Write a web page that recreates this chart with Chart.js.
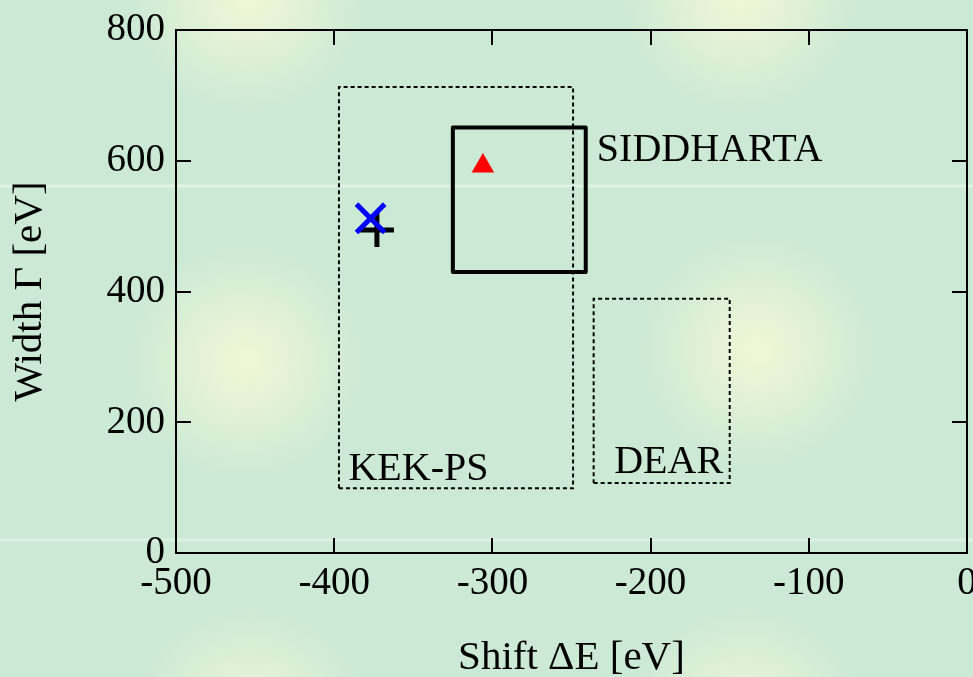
<!DOCTYPE html>
<html><head><meta charset="utf-8">
<script src="https://cdn.jsdelivr.net/npm/chart.js@4"></script>
<style>
html,body{margin:0;padding:0;width:973px;height:677px;overflow:hidden;}
body{
background:
 linear-gradient(to bottom, rgba(255,255,255,0) 184px, rgba(240,250,240,0.55) 185px, rgba(240,250,240,0.55) 187px, rgba(255,255,255,0) 188px, rgba(255,255,255,0) 538px, rgba(240,250,240,0.45) 539px, rgba(240,250,240,0.45) 541px, rgba(255,255,255,0) 542px),
 radial-gradient(circle at 245px 362px, rgba(240,247,214,1) 0px, rgba(236,245,214,0.8) 40px, rgba(204,233,213,0) 120px),
 radial-gradient(circle at 757px 350px, rgba(240,247,214,1) 0px, rgba(236,245,214,0.8) 40px, rgba(204,233,213,0) 120px),
 radial-gradient(circle at 248px -5px, rgba(240,247,214,1) 0px, rgba(236,245,214,0.8) 40px, rgba(204,233,213,0) 120px),
 radial-gradient(circle at 740px -5px, rgba(240,247,214,1) 0px, rgba(236,245,214,0.8) 40px, rgba(204,233,213,0) 120px),
 radial-gradient(circle at 250px 725px, rgba(240,247,214,1) 0px, rgba(236,245,214,0.8) 40px, rgba(204,233,213,0) 120px),
 radial-gradient(circle at 745px 725px, rgba(240,247,214,1) 0px, rgba(236,245,214,0.8) 40px, rgba(204,233,213,0) 120px),
 #cbe9d5;
}
#wrap{position:relative;width:973px;height:677px;}
</style></head>
<body><div id="wrap"><canvas id="c" width="973" height="677"></canvas></div>
<script>
// ---- data ----
const xRange = [-500, 0];
const yRange = [0, 800];
const xTickStep = 100;
const yTickStep = 200;
const xTitle = 'Shift ΔE [eV]';
const yTitle = 'Width Γ [eV]';

// experiment boxes: [xmin, xmax], [ymin, ymax]
const kekpsX = [-397, -249];
const kekpsY = [99, 713];
const dearX = [-236, -150];
const dearY = [107, 389];
const siddhartaX = [-325, -241];
const siddhartaY = [430, 651];

// theory points
const triangleX = [-306];
const triangleY = [592];
const blueCrossX = [-377];
const blueCrossY = [512];
const blackPlusX = [-373];
const blackPlusY = [494];

// box labels (text, data position of left baseline)
const labelTexts = ['SIDDHARTA', 'KEK-PS', 'DEAR'];
const labelX = [-234, -391, -223];
const labelY = [599, 112, 122];

// ---- build ----
function rect(xs, ys){
  return [
    {x: xs[0], y: ys[0]}, {x: xs[1], y: ys[0]},
    {x: xs[1], y: ys[1]}, {x: xs[0], y: ys[1]},
    {x: xs[0], y: ys[0]}
  ];
}
function pts(xs, ys){ return xs.map((v,i)=>({x: v, y: ys[i]})); }

Chart.defaults.font.family = "'Liberation Serif','Times New Roman',serif";
Chart.defaults.color = '#000';

const labelPlugin = {
  id: 'boxLabels',
  afterDatasetsDraw(chart){
    const ctx = chart.ctx;
    const xs = chart.scales.x, ys = chart.scales.y;
    ctx.save();
    ctx.font = "40px 'Liberation Serif','Times New Roman',serif";
    ctx.fillStyle = '#000';
    ctx.textAlign = 'left';
    ctx.textBaseline = 'alphabetic';
    labelTexts.forEach((t,i)=>{
      ctx.fillText(t, xs.getPixelForValue(labelX[i]), ys.getPixelForValue(labelY[i]));
    });
    ctx.restore();
  }
};

const gridOpts = {drawOnChartArea:false, drawTicks:true, tickLength:-15, color:'#000', lineWidth:2};
const borderOpts = {display:true, color:'#000', width:2};

new Chart(document.getElementById('c'), {
  type: 'scatter',
  data: {
    datasets: [
      {label:'blue', data: pts(blueCrossX, blueCrossY), pointStyle:'crossRot', pointRadius:20, borderColor:'#0000ff', backgroundColor:'#0000ff', pointBorderWidth:5, showLine:false},
      {label:'plus', data: pts(blackPlusX, blackPlusY), pointStyle:'cross', pointRadius:17, borderColor:'#000', backgroundColor:'#000', pointBorderWidth:5, showLine:false},
      {label:'tri', data: pts(triangleX, triangleY), pointStyle:'triangle', pointRadius:13, borderColor:'#ff0000', backgroundColor:'#ff0000', pointBorderWidth:0, showLine:false},
      {label:'SIDDHARTA', data: rect(siddhartaX, siddhartaY), showLine:true, pointRadius:0, borderColor:'#000', borderWidth:4, borderJoinStyle:'round', fill:false, tension:0},
      {label:'KEK-PS', data: rect(kekpsX, kekpsY), showLine:true, pointRadius:0, borderColor:'#000', borderWidth:2, borderDash:[4,3], fill:false, tension:0},
      {label:'DEAR', data: rect(dearX, dearY), showLine:true, pointRadius:0, borderColor:'#000', borderWidth:2, borderDash:[4,3], fill:false, tension:0}
    ]
  },
  options: {
    responsive:false, animation:false,
    layout:{autoPadding:false, padding:{left:0, right:6, top:30, bottom:0}},
    plugins:{legend:{display:false}, tooltip:{enabled:false}},
    scales:{
      x:{type:'linear', position:'bottom', min:xRange[0], max:xRange[1],
        ticks:{stepSize:xTickStep, font:{size:39}, color:'#000', padding:22, maxRotation:0, callback:v=>String(v)},
        grid:gridOpts, border:borderOpts,
        title:{display:true, text:xTitle, font:{size:41, lineHeight:1}, color:'#000', padding:{top:0,bottom:-2}},
        afterFit(s){ s.height = 124; s.paddingLeft = 0; s.paddingRight = 0; }
      },
      x2:{type:'linear', position:'top', min:xRange[0], max:xRange[1],
        ticks:{stepSize:xTickStep, display:false},
        grid:gridOpts, border:borderOpts,
        afterFit(s){ s.height = 0; s.paddingLeft = 0; s.paddingRight = 0; }
      },
      y:{type:'linear', position:'left', min:yRange[0], max:yRange[1],
        ticks:{stepSize:yTickStep, font:{size:39}, color:'#000', padding:26, callback:v=>String(v)},
        grid:gridOpts, border:borderOpts,
        title:{display:true, text:yTitle, font:{size:41, lineHeight:1}, color:'#000', padding:{top:10,bottom:0}},
        afterFit(s){ s.width = 176; s.paddingTop = 0; s.paddingBottom = 0; }
      },
      y2:{type:'linear', position:'right', min:yRange[0], max:yRange[1],
        ticks:{stepSize:yTickStep, display:false},
        grid:gridOpts, border:borderOpts,
        afterFit(s){ s.width = 0; s.paddingTop = 0; s.paddingBottom = 0; }
      }
    }
  },
  plugins:[labelPlugin]
});
</script>
</body></html>
